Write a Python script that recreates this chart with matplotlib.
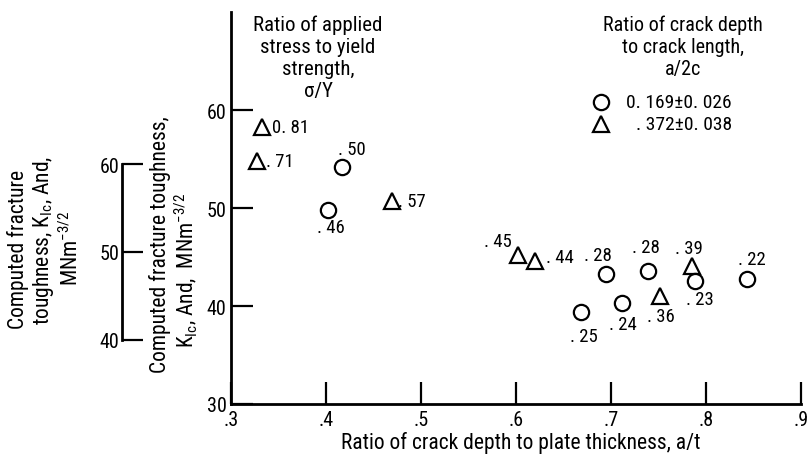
import matplotlib
matplotlib.use('Agg')
import matplotlib.pyplot as plt
from matplotlib import font_manager
from matplotlib.ticker import FuncFormatter

# narrow face if there is one
names = {f.name for f in font_manager.fontManager.ttflist}
fam = 'DejaVu Sans'
for cand in ['Liberation Sans Narrow', 'Roboto Condensed', 'Open Sans Condensed',
             'Noto Sans Condensed', 'DejaVu Sans Condensed']:
    if cand in names:
        fam = cand
        break
plt.rcParams['font.family'] = [fam, 'DejaVu Sans']
plt.rcParams['font.stretch'] = 'condensed'
plt.rcParams['mathtext.fontset'] = 'custom'
plt.rcParams['mathtext.rm'] = fam
plt.rcParams['mathtext.it'] = fam

# a/2c = 0.169 (circles)
circle_at = [0.417, 0.402, 0.695, 0.739, 0.788, 0.843, 0.712, 0.668]
circle_k = [54.2, 49.8, 43.3, 43.6, 42.6, 42.8, 40.3, 39.4]
circle_sy = ['. 50', '. 46', '. 28', '. 28', '. 23', '. 22', '. 24', '. 25']
circle_off = [(10, 18), (3, -17), (-8, 19), (-2, 24), (5, -18), (5, 20), (1, -21), (3, -24)]

# a/2c = 0.372 (triangles)
tri_at = [0.333, 0.328, 0.470, 0.602, 0.620, 0.785, 0.752]
tri_k = [58.3, 54.8, 50.7, 45.2, 44.6, 44.1, 41.0]
tri_sy = ['0. 81', '. 71', '. 57', '. 45', '. 44', '. 39', '. 36']
tri_off = [(28, 0), (22, 0), (20, 0), (-20, 14), (25, 4), (-3, 18), (1, -20)]

x_ticks = [0.3, 0.4, 0.5, 0.6, 0.7, 0.8, 0.9]
y_ticks = [30, 40, 50, 60]
side_ticks = [40, 50, 60]

fig = plt.figure(figsize=(8.07, 4.6), dpi=100)
ax = fig.add_axes([0.286, 0.1196, 0.7066, 0.852])

mkw = dict(linestyle='none', markerfacecolor='none', markeredgecolor='black',
           markeredgewidth=1.6, markersize=11, clip_on=False)
ax.plot(circle_at, circle_k, marker='o', **mkw)
ax.plot(tri_at, tri_k, marker='^', **mkw)

px = 0.72  # points per pixel at 100 dpi
for xs, ys, labs, offs in [(circle_at, circle_k, circle_sy, circle_off),
                           (tri_at, tri_k, tri_sy, tri_off)]:
    for x, y, s, (dx, dy) in zip(xs, ys, labs, offs):
        ax.annotate(s, (x, y), xytext=(dx * px, dy * px), textcoords='offset points',
                    ha='center', va='center', fontsize=13.5)

ax.set_xlim(0.3, 0.9)
ax.set_ylim(30, 70)
ax.set_xticks(x_ticks)
ax.set_yticks(y_ticks)
ax.xaxis.set_major_formatter(FuncFormatter(lambda v, p: ('%.1f' % v)[1:]))
ax.tick_params(direction='in', length=16, width=1.6, labelsize=14.5)
ax.tick_params(axis='x', pad=4)
ax.tick_params(axis='y', pad=3)
ax.spines['top'].set_visible(False)
ax.spines['right'].set_visible(False)
for s in ['left', 'bottom']:
    ax.spines[s].set_linewidth(2)
ax.set_xlabel('Ratio of crack depth to plate thickness, a/t', fontsize=15.5, labelpad=2)
ax.xaxis.set_label_coords(0.509, -0.07)

ax.text(0.153, 0.995, 'Ratio of applied\nstress to yield\nstrength,\n\u03c3/Y',
        transform=ax.transAxes, ha='center', va='top', fontsize=15, linespacing=1.2)
ax.text(0.793, 0.995, 'Ratio of crack depth\nto crack length,\na/2c',
        transform=ax.transAxes, ha='center', va='top', fontsize=14.5, linespacing=1.2)

# key
ax.plot([0.69], [60.8], marker='o', **mkw)
ax.plot([0.69], [58.6], marker='^', **mkw)
ax.text(0.827, 60.8, '0. 169\u00b10. 026', ha='right', va='center', fontsize=14)
ax.text(0.827, 58.6, '. 372\u00b10. 038', ha='right', va='center', fontsize=14)

# separate toughness scale on the left
sax = fig.add_axes([0.151, 0.2587, 0.03, 0.3826])
sax.set_ylim(40, 60)
sax.set_yticks(side_ticks)
sax.set_xticks([])
for s in ['top', 'right', 'bottom']:
    sax.spines[s].set_visible(False)
sax.spines['left'].set_linewidth(2)
sax.tick_params(axis='y', direction='in', length=15, width=1.6, labelsize=14.5, pad=2)
sax.patch.set_alpha(0)

W, H = 807.0, 460.0
ylab = [('Computed fracture', 18, 249),
        ('toughness, K$_{\\rm Ic}$, And,', 44, 241),
        ('MNm$^{-3/2}$', 71, 248),
        ('Computed fracture toughness,', 160, 245),
        ('K$_{\\rm Ic}$, And,  MNm$^{-3/2}$', 186, 270)]
for s, xp, yp in ylab:
    fig.text(xp / W, 1 - yp / H, s, rotation=90, ha='center', va='center', fontsize=15.5)

fig.savefig('out.png', dpi=100)
